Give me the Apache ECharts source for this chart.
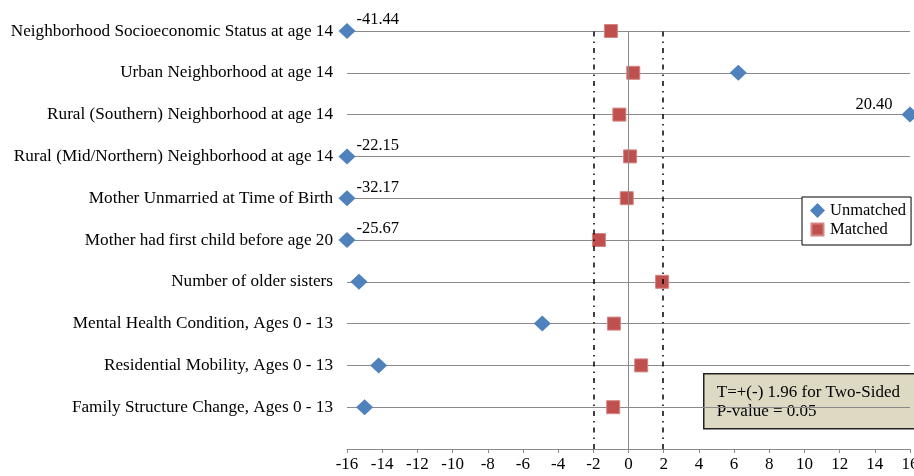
<!DOCTYPE html>
<html>
<head>
<meta charset="utf-8">
<script src="https://cdn.jsdelivr.net/npm/echarts@6.0.0/dist/echarts.min.js"></script>
<style>
html,body{margin:0;padding:0;background:#fff;}
#chart{width:914px;height:476px;}
</style>
</head>
<body>
<div id="chart"></div>
<script>
// ---- data ----
var categories = [
  'Neighborhood Socioeconomic Status at age 14',
  'Urban Neighborhood at age 14',
  'Rural (Southern) Neighborhood at age 14',
  'Rural (Mid/Northern) Neighborhood at age 14',
  'Mother Unmarried at Time of Birth',
  'Mother had first child before age 20',
  'Number of older sisters',
  'Mental Health Condition, Ages 0 - 13',
  'Residential Mobility, Ages 0 - 13',
  'Family Structure Change, Ages 0 - 13'
];
var unmatched = [-41.44, 6.24, 20.40, -22.15, -32.17, -25.67, -15.32, -4.90, -14.20, -15.00];
var matched   = [-1.00, 0.27, -0.52, 0.09, -0.10, -1.68, 1.91, -0.83, 0.72, -0.87];
var xTicks = { min: -16, max: 16, interval: 2 };
var critical = [-1.96, 1.96];
var noteLines = ['T=+(-) 1.96 for Two-Sided', 'P-value = 0.05'];

var FONT = 'Liberation Serif';
var GRID_COLOR = '#8a8a8a';
var n = categories.length;

function rowY(i) { return n - i; }

var unmatchedData = unmatched.map(function (v, i) {
  var x = Math.max(xTicks.min, Math.min(xTicks.max, v));
  var item = { value: [x, rowY(i)] };
  if (v < xTicks.min) {
    item.label = { show: true, position: 'right', distance: 1, offset: [0, -11], formatter: v.toFixed(2) };
  } else if (v > xTicks.max) {
    item.label = { show: true, position: 'left', distance: 9, offset: [0, -10], formatter: v.toFixed(2) };
  }
  return item;
});
var matchedData = matched.map(function (v, i) { return [v, rowY(i)]; });

var DASHDOT = [5, 5, 1.5, 5];

var chart = echarts.init(document.getElementById('chart'), null, { renderer: 'canvas' });
chart.setOption({
  animation: false,
  backgroundColor: '#fff',
  textStyle: { fontFamily: FONT },
  grid: { left: 347, right: 4, top: 31, bottom: 27, containLabel: false, outerBoundsMode: 'none' },
  xAxis: {
    type: 'value',
    min: xTicks.min, max: xTicks.max, interval: xTicks.interval,
    axisLine: { show: true, onZero: false, lineStyle: { color: GRID_COLOR, width: 1 } },
    axisTick: { show: true, length: 4, lineStyle: { color: GRID_COLOR } },
    axisLabel: { color: '#000', fontSize: 17, fontFamily: FONT, margin: 7, hideOverlap: false, showMinLabel: true, showMaxLabel: true },
    splitLine: { show: false }
  },
  yAxis: {
    type: 'value',
    min: 0, max: n, interval: 1,
    axisLine: { show: false },
    axisTick: { show: false },
    axisLabel: {
      color: '#000', fontSize: 17.2, fontFamily: FONT, margin: 14,
      formatter: function (val) {
        var idx = n - Math.round(val);
        return (idx >= 0 && idx < n && val > 0) ? categories[idx] : '';
      }
    },
    splitLine: { show: true, lineStyle: { color: GRID_COLOR, width: 1 } }
  },
  legend: {
    orient: 'vertical',
    left: 802, top: 197,
    backgroundColor: '#fff',
    borderColor: '#000', borderWidth: 1,
    padding: [5, 5, 7, 7],
    itemGap: 2,
    itemWidth: 15, itemHeight: 15,
    textStyle: { color: '#000', fontSize: 16.5, fontFamily: FONT, lineHeight: 17 },
    data: [
      { name: 'Unmatched', icon: 'diamond' },
      { name: 'Matched', icon: 'path://M0,0M15,15M1.5,1.5h12v12h-12z' }
    ]
  },
  series: [
    {
      name: 'lines', type: 'scatter', data: [], z: 1, silent: true,
      markLine: {
        silent: true, symbol: 'none', animation: false,
        label: { show: false },
        data: [
          { xAxis: 0, lineStyle: { color: GRID_COLOR, width: 1, type: 'solid' } },
          { xAxis: critical[0], lineStyle: { color: '#000', width: 1.5, type: DASHDOT } },
          { xAxis: critical[1], lineStyle: { color: '#000', width: 1.5, type: DASHDOT } }
        ]
      }
    },
    {
      name: 'Unmatched', type: 'scatter', z: 3, clip: false,
      symbol: 'diamond', symbolSize: [17, 16],
      itemStyle: { color: '#4F81BD', opacity: 1 },
      label: { color: '#000', fontSize: 16.5, fontFamily: FONT },
      data: unmatchedData
    },
    {
      name: 'Matched', type: 'scatter', z: 4, clip: false,
      symbol: 'rect', symbolSize: 13,
      itemStyle: { color: '#C0504D', borderColor: '#D48583', borderWidth: 1, opacity: 1 },
      data: matchedData
    }
  ],
  graphic: [
    {
      type: 'group', left: 703, top: 373, z: 100,
      children: [
        { type: 'rect', shape: { x: 0, y: 0, width: 220, height: 55 },
          style: { fill: '#DDD9C3', stroke: '#222', lineWidth: 1.5 } },
        { type: 'text', x: 13, y: 19, style: { text: noteLines[0], fill: '#000', font: '17px "Liberation Serif"', verticalAlign: 'middle' } },
        { type: 'text', x: 13, y: 38, style: { text: noteLines[1], fill: '#000', font: '17px "Liberation Serif"', verticalAlign: 'middle' } }
      ]
    }
  ]
});
</script>
</body>
</html>
